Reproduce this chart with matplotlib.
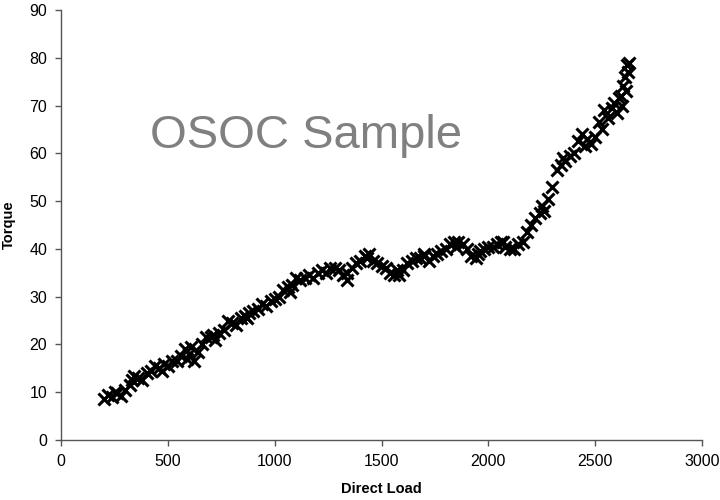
import matplotlib
matplotlib.use("Agg")
import matplotlib.pyplot as plt

# Direct load vs torque
direct_load = [
    200, 220, 240, 260, 280, 300, 320, 340, 360, 380, 400,
    420, 440, 460, 480, 500, 520, 540, 560, 580, 600,
    620, 640, 660, 680, 700, 720, 740, 760, 780, 800,
    820, 840, 860, 880, 900, 920, 940, 960, 980, 1000,
    1020, 1040, 1060, 1080, 1100, 1120, 1140, 1160, 1180, 1200,
    1220, 1240, 1260, 1280, 1300, 1320, 1340, 1360, 1380, 1400,
    1420, 1440, 1460, 1480, 1500, 1520, 1540, 1560, 1580, 1600,
    1620, 1640, 1660, 1680, 1700, 1720, 1740, 1760, 1780, 1800,
    1820, 1840, 1860, 1880, 1900, 1920, 1940, 1960, 1980, 2000,
    2020, 2040, 2060, 2080, 2100, 2120, 2140, 2160, 2180, 2200,
    2220, 2240, 2260, 2280, 2300, 2320, 2340, 2360, 2380, 2400,
    2420, 2440, 2460, 2480, 2500, 2520, 2540, 2560, 2580, 2600,
    2610, 2620, 2625, 2630, 2640, 2645, 2650, 2655, 2660,
    # extra scatter around the band
    250, 330, 470, 590, 610, 710, 870, 1070, 1340, 1430,
    1570, 1700, 1850, 1950, 2070, 2250, 2350, 2450, 2530, 2590,
]
torque = [
    8.5, 9.5, 9.0, 9.8, 9.2, 10.5, 11.5, 13.5, 13.0, 12.5, 14.0,
    14.5, 15.5, 15.0, 16.0, 15.5, 16.5, 16.5, 17.5, 19.0, 18.0,
    16.5, 18.5, 20.0, 21.5, 21.5, 21.0, 22.5, 23.0, 25.0, 24.5,
    24.0, 25.5, 26.0, 26.5, 27.0, 27.5, 28.5, 28.0, 29.0, 29.5,
    30.0, 31.5, 32.0, 32.5, 34.0, 33.5, 34.0, 34.5, 34.0, 35.0,
    35.5, 35.0, 36.0, 36.0, 35.5, 34.5, 35.0, 36.0, 37.0, 37.5,
    38.5, 39.0, 37.5, 37.0, 36.5, 36.0, 35.0, 34.5, 34.5, 35.5,
    37.0, 37.5, 38.0, 38.0, 38.5, 37.5, 38.5, 39.0, 39.5, 40.0,
    41.0, 41.5, 41.5, 41.0, 40.0, 38.5, 38.0, 39.5, 40.0, 40.5,
    40.5, 41.0, 41.5, 40.5, 40.0, 40.0, 41.0, 41.5, 43.5, 45.0,
    46.5, 47.5, 48.0, 50.5, 53.0, 56.5, 57.5, 58.5, 59.5, 60.0,
    62.5, 64.0, 63.0, 62.0, 63.5, 66.5, 69.0, 67.5, 69.5, 68.5,
    71.5, 72.0, 70.0, 74.0, 76.0, 73.0, 78.5, 77.0, 79.0,
    10.0, 12.5, 14.5, 17.0, 19.5, 22.0, 25.5, 31.0, 33.5, 38.0,
    35.5, 39.0, 40.5, 39.0, 41.5, 49.0, 59.0, 61.5, 65.0, 70.5,
]

fig = plt.figure(figsize=(7.2, 5.0), dpi=100)
ax = fig.add_axes([0.085, 0.12, 0.89, 0.86])

ax.plot(direct_load, torque, linestyle="none", marker="x",
        markersize=9, markeredgewidth=2.2, color="black")

ax.set_xlim(0, 3000)
ax.set_ylim(0, 90)
ax.set_xticks(range(0, 3001, 500))
ax.set_yticks(range(0, 91, 10))

for side in ["top", "right"]:
    ax.spines[side].set_visible(False)
for side in ["left", "bottom"]:
    ax.spines[side].set_color("#555555")
    ax.spines[side].set_linewidth(1.0)

ax.tick_params(direction="out", length=4, width=1, color="#555555",
               labelsize=11.5, pad=6)
for lbl in ax.get_xticklabels() + ax.get_yticklabels():
    lbl.set_fontfamily("Liberation Sans")

ax.set_xlabel("Direct Load", fontfamily="Liberation Sans",
              fontweight="bold", fontsize=10.5)
ax.set_ylabel("Torque", fontfamily="Liberation Sans",
              fontweight="bold", fontsize=10.5)
ax.xaxis.set_label_coords(0.5, -0.098)
ax.yaxis.set_label_coords(-0.07, 0.5)

fig.text(0.208, 0.704, "OSOC Sample", fontfamily="Liberation Sans",
         fontsize=34, color="#808080", va="baseline", ha="left")

fig.savefig("out.png", dpi=100)
